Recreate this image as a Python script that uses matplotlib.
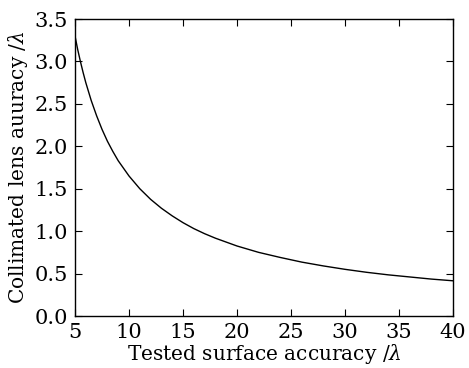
import matplotlib
matplotlib.use("Agg")
import matplotlib.pyplot as plt

surface_acc = [5, 5.25, 5.5, 5.75, 6, 6.5, 7, 7.5, 8, 8.5, 9, 9.5, 10, 11, 12, 13, 14,
               15, 16, 17, 18, 20, 22, 24, 26, 28, 30, 32, 34, 36, 38, 40]
lens_acc = [3.30, 3.14, 3.00, 2.87, 2.75, 2.54, 2.36, 2.20, 2.06, 1.94, 1.83, 1.74,
            1.65, 1.50, 1.375, 1.27, 1.18, 1.10, 1.03, 0.97, 0.917, 0.825, 0.75,
            0.69, 0.635, 0.59, 0.55, 0.515, 0.485, 0.46, 0.435, 0.415]
x_ticks = [5, 10, 15, 20, 25, 30, 35, 40]
y_ticks = [0.0, 0.5, 1.0, 1.5, 2.0, 2.5, 3.0, 3.5]

plt.rcParams['font.family'] = ['DejaVu Serif']
plt.rcParams['mathtext.fontset'] = 'dejavuserif'

fig = plt.figure(figsize=(4.69, 3.68), dpi=100)
ax = fig.add_axes([75/469, 1-316/368, (453-75)/469, (316-19)/368])
ax.plot(surface_acc, lens_acc, color='black', linewidth=1.0)
ax.set_xlim(5, 40)
ax.set_ylim(0, 3.5)
ax.set_xticks(x_ticks)
ax.set_xticklabels([str(v) for v in x_ticks])
ax.set_yticks(y_ticks)
ax.set_yticklabels([f"{v:.1f}" for v in y_ticks])
ax.tick_params(direction='in', top=True, right=True, length=5, width=0.8,
               labelsize=15, pad=5)
for s in ax.spines.values():
    s.set_linewidth(1.0)
ax.set_xlabel('Tested surface accuracy /$\\lambda$', fontsize=14.5, labelpad=0)
ax.set_ylabel('Collimated lens auuracy /$\\lambda$', fontsize=14.5, labelpad=3)
fig.savefig('out.png', dpi=100)
